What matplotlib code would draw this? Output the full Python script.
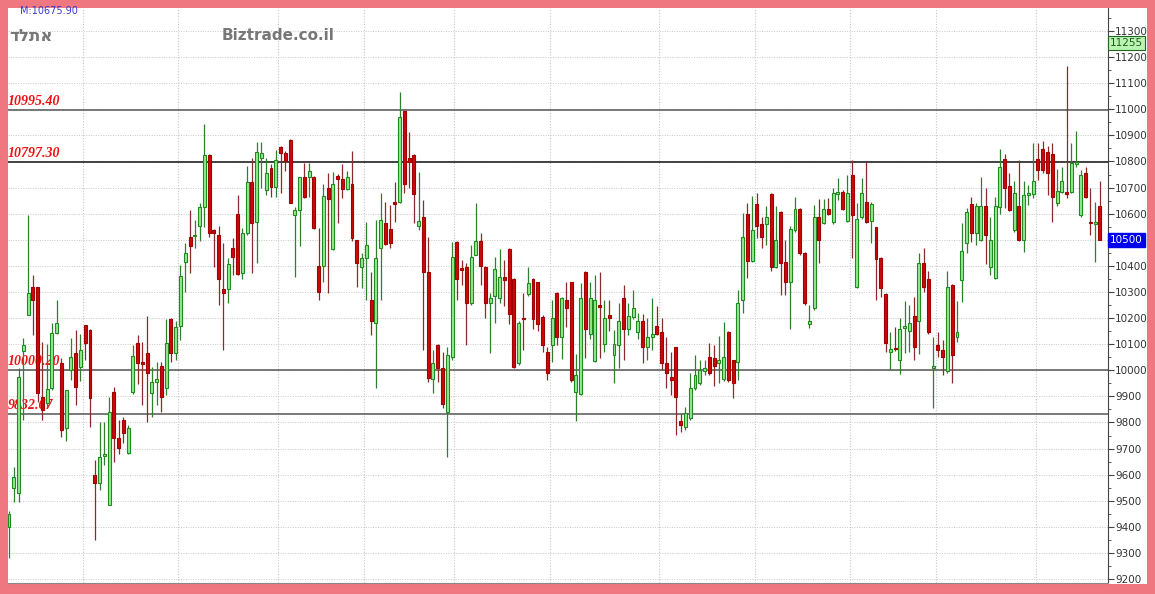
import matplotlib
matplotlib.use("Agg")
import matplotlib.pyplot as plt
import matplotlib.transforms as mtransforms
import numpy as np

# OHLC values, one row per session (oldest first)
opens = [9400, 9550, 9530, 10075, 10212, 10320, 10320, 9898, 9875, 9932,
         10143, 10028, 9779, 10001, 10066, 10013, 10173, 10154, 9600, 9570,
         9670, 9484, 9917, 9740, 9810, 9683, 9917, 10104, 10030, 10066,
         9913, 9955, 10017, 9932, 10196, 10066, 10169, 10415, 10510, 10515,
         10553, 10626, 10825, 10537, 10518, 10311, 10311, 10468, 10599, 10373,
         10526, 10722, 10568, 10813, 10691, 10775, 10702, 10856, 10833, 10883,
         10595, 10614, 10741, 10741, 10741, 10400, 10400, 10698, 10465, 10745,
         10733, 10695, 10714, 10499, 10396, 10430, 10269, 10181, 10468, 10564,
         10541, 10645, 10645, 10994, 10813, 10825, 10553, 10587, 10377, 9967,
         10097, 10009, 9840, 10051, 10491, 10392, 10396, 10258, 10442, 10495,
         10396, 10258, 10285, 10277, 10357, 10465, 10350, 10028, 10200, 10292,
         10350, 10338, 10204, 10070, 10097, 10296, 10127, 10269, 10338, 9917,
         9909, 10377, 10139, 10035, 10250, 10101, 10212, 10059, 10097, 10277,
         10158, 10204, 10147, 10189, 10089, 10127, 10170, 10147, 10028, 9974,
         10089, 9806, 9783, 9817, 9932, 9951, 9997, 10051, 10047, 10028,
         9967, 10147, 10040, 10032, 10269, 10599, 10419, 10637, 10560, 10560,
         10676, 10396, 10607, 10415, 10338, 10537, 10618, 10449, 10177, 10238,
         10587, 10564, 10618, 10568, 10676, 10683, 10572, 10749, 10319, 10587,
         10645, 10572, 10549, 10430, 10292, 10070, 10085, 10040, 10162, 10150,
         10208, 10189, 10411, 10350, 10009, 10097, 10078, 9997, 10327, 10127,
         10346, 10487, 10637, 10526, 10499, 10630, 10396, 10353, 10626, 10810,
         10706, 10537, 10630, 10499, 10672, 10676, 10810, 10848, 10837, 10829,
         10641, 10683, 10683, 10683, 10790, 10595, 10756, 10570, 10560, 10630]
highs = [9460, 9630, 10010, 10125, 10595, 10365, 10320, 10108, 10100, 10180,
         10270, 10047, 9925, 10124, 10154, 10140, 10175, 10160, 9656, 9800,
         9802, 9898, 9936, 9810, 9820, 9790, 10097, 10135, 10108, 10208,
         10013, 10032, 10032, 10196, 10200, 10190, 10403, 10487, 10614, 10576,
         10641, 10944, 10830, 10540, 10553, 10487, 10430, 10507, 10672, 10545,
         10783, 10813, 10875, 10875, 10813, 10790, 10844, 10860, 10840, 10885,
         10626, 10741, 10795, 10795, 10745, 10545, 10714, 10756, 10760, 10752,
         10790, 10764, 10840, 10500, 10450, 10568, 10376, 10576, 10680, 10645,
         10633, 10722, 11066, 10995, 10913, 10830, 10760, 10652, 10510, 10078,
         10100, 10070, 10089, 10491, 10495, 10423, 10410, 10480, 10641, 10526,
         10400, 10296, 10434, 10465, 10423, 10470, 10355, 10190, 10296, 10396,
         10355, 10340, 10210, 10089, 10269, 10300, 10280, 10338, 10340, 10062,
         10334, 10380, 10338, 10365, 10377, 10269, 10269, 10154, 10258, 10327,
         10258, 10307, 10220, 10215, 10200, 10277, 10246, 10200, 10127, 10070,
         10089, 9833, 9860, 9990, 10059, 10040, 10040, 10104, 10097, 10131,
         10185, 10150, 10040, 10307, 10603, 10641, 10668, 10680, 10587, 10630,
         10680, 10630, 10610, 10499, 10553, 10664, 10620, 10455, 10250, 10633,
         10656, 10656, 10660, 10700, 10737, 10690, 10749, 10806, 10640, 10737,
         10798, 10645, 10550, 10435, 10296, 10147, 10166, 10200, 10265, 10250,
         10281, 10449, 10468, 10380, 10127, 10147, 10116, 10380, 10330, 10265,
         10564, 10620, 10665, 10640, 10741, 10698, 10587, 10664, 10848, 10830,
         10756, 10725, 10806, 10725, 10710, 10871, 10871, 10880, 10860, 10871,
         10770, 10780, 11166, 10871, 10917, 10768, 10779, 10698, 10645, 10725]
lows = [9280, 9495, 9495, 9810, 10212, 10135, 9880, 9810, 9860, 9925,
        10140, 9744, 9730, 9962, 9867, 9960, 10040, 9783, 9350, 9540,
        9637, 9484, 9648, 9680, 9720, 9680, 9910, 9947, 9867, 9802,
        9821, 9867, 9840, 9905, 10032, 10040, 10116, 10300, 10373, 10468,
        10495, 10549, 10510, 10396, 10250, 10078, 10258, 10365, 10365, 10350,
        10520, 10373, 10411, 10698, 10672, 10664, 10664, 10680, 10764, 10640,
        10357, 10476, 10660, 10664, 10540, 10269, 10338, 10296, 10460, 10564,
        10660, 10690, 10495, 10319, 10315, 10269, 10135, 9932, 10269, 10480,
        10468, 10568, 10640, 10680, 10698, 10564, 10537, 10078, 9955, 9913,
        9955, 9855, 9668, 10040, 10269, 10327, 10097, 10250, 10440, 10327,
        10200, 10066, 10181, 10258, 10246, 10177, 10009, 10020, 10078, 10285,
        10158, 10150, 10070, 9962, 10032, 10097, 10043, 10166, 9955, 9806,
        9905, 10047, 10120, 10030, 10047, 10070, 10150, 9951, 10009, 10040,
        10135, 10196, 10120, 10028, 10040, 10078, 10135, 10001, 9932, 9905,
        9752, 9763, 9770, 9810, 9925, 9945, 9980, 9980, 9940, 9950,
        9960, 9955, 9894, 9963, 10219, 10353, 10415, 10507, 10468, 10480,
        10380, 10390, 10288, 10288, 10158, 10530, 10440, 10250, 10162, 10230,
        10411, 10560, 10595, 10560, 10652, 10615, 10568, 10430, 10315, 10580,
        10565, 10487, 10269, 10280, 10070, 10001, 10075, 9985, 10066, 10070,
        10040, 10062, 10300, 10140, 9855, 10051, 9982, 9990, 9951, 10108,
        10262, 10450, 10490, 10480, 10495, 10407, 10365, 10350, 10599, 10620,
        10610, 10530, 10495, 10453, 10635, 10660, 10730, 10755, 10672, 10568,
        10630, 10680, 10660, 10680, 10779, 10587, 10660, 10518, 10415, 10499]
closes = [9450, 9590, 9975, 10097, 10296, 10270, 9913, 9848, 9928, 10143,
          10181, 9771, 9925, 10051, 9936, 10078, 10104, 9894, 9570, 9668,
          9680, 9840, 9740, 9702, 9760, 9779, 10055, 10028, 10025, 9990,
          9955, 9967, 9898, 10104, 10066, 10166, 10361, 10449, 10476, 10520,
          10626, 10825, 10526, 10526, 10350, 10296, 10407, 10434, 10369, 10526,
          10722, 10564, 10836, 10833, 10756, 10702, 10806, 10833, 10802, 10641,
          10614, 10741, 10664, 10764, 10545, 10300, 10668, 10656, 10714, 10733,
          10695, 10741, 10507, 10411, 10430, 10480, 10189, 10430, 10576, 10484,
          10487, 10637, 10971, 10714, 10798, 10676, 10572, 10377, 9970, 10028,
          10009, 9871, 10059, 10434, 10350, 10385, 10258, 10434, 10495, 10400,
          10258, 10277, 10388, 10357, 10346, 10215, 10013, 10181, 10195, 10334,
          10196, 10177, 10097, 9990, 10200, 10127, 10277, 10238, 9962, 9982,
          10277, 10158, 10277, 10269, 10242, 10200, 10200, 10101, 10189, 10158,
          10208, 10238, 10189, 10089, 10127, 10139, 10139, 10028, 9990, 9963,
          9898, 9790, 9837, 9932, 9982, 10001, 10009, 9990, 10017, 10040,
          10051, 9963, 9951, 10258, 10510, 10419, 10537, 10553, 10510, 10587,
          10396, 10499, 10411, 10338, 10541, 10618, 10449, 10258, 10189, 10587,
          10499, 10618, 10599, 10680, 10683, 10618, 10680, 10595, 10580, 10680,
          10568, 10637, 10426, 10315, 10104, 10082, 10080, 10158, 10170, 10181,
          10089, 10411, 10319, 10147, 10017, 10078, 10051, 10319, 10059, 10147,
          10457, 10607, 10526, 10630, 10630, 10518, 10499, 10630, 10779, 10698,
          10614, 10680, 10499, 10672, 10680, 10725, 10768, 10768, 10756, 10664,
          10687, 10725, 10677, 10794, 10798, 10749, 10664, 10565, 10568, 10500]

# session index where each new month starts (vertical grid)
month_starts = [16, 36, 57, 75, 94, 114, 137, 157, 177, 195, 216]
# support / resistance levels drawn on the chart
levels = [10995.40, 10797.30, 10000.20, 9832.67]
level_labels = ["10995.40", "10797.30", "10000.20", "9832.67"]
last_price = 10500
marker_price = 11255

W, H = 1155, 594
fig = plt.figure(figsize=(W / 100, H / 100), dpi=100, facecolor="#ef777f")

# white inner panel
bg = fig.add_axes([8 / W, (H - 584) / H, (1147 - 8) / W, (584 - 8) / H])
bg.set_facecolor("white")
bg.set_xticks([])
bg.set_yticks([])
for s in bg.spines.values():
    s.set_visible(False)

ax = fig.add_axes([8 / W, (H - 583) / H, 1100 / W, 575 / H])
ax.patch.set_alpha(0)

o = np.array(opens, float)
h = np.array(highs, float)
l = np.array(lows, float)
c = np.array(closes, float)
x = np.arange(len(o))
up = c >= o

# grid
for yv in np.arange(9200, 11400, 100):
    ax.axhline(yv, color="#c8c8c8", lw=0.7, ls=(0, (1, 1.5)), zorder=0)
for m in month_starts:
    ax.axvline(m - 0.5, color="#c8c8c8", lw=0.8, ls=(0, (1, 1.5)), zorder=0)

# level lines and labels
tr = mtransforms.blended_transform_factory(ax.transAxes, ax.transData)
for lv, lab in zip(levels, level_labels):
    col = "#111111" if lv == 10797.30 else "#555555"
    ax.axhline(lv, color=col, lw=1.1, zorder=1)
    ax.text(0.0, lv + 9, lab, color="#ee1111", fontsize=10, fontstyle="italic",
            fontweight="bold", family="Liberation Serif", va="bottom", ha="left",
            transform=tr, zorder=1.5)

# wicks
ax.vlines(x[up], l[up], h[up], color="#2f7f2f", lw=0.9, zorder=2)
ax.vlines(x[~up], l[~up], h[~up], color="#8a2a2a", lw=0.9, zorder=2)

# bodies
body = np.maximum(np.abs(c - o), 4)
bottom = np.minimum(o, c)
ax.bar(x[up], body[up], bottom=bottom[up], width=0.62, color="#93eb8f",
       edgecolor="#1f8a1f", lw=0.8, zorder=3)
ax.bar(x[~up], body[~up], bottom=bottom[~up], width=0.62, color="#cc0a0a",
       edgecolor="#a00000", lw=0.8, zorder=3)

ax.set_xlim(-0.21, 230.7)
ax.set_ylim(9185, 11388)

# axis styling
for side in ["left", "top"]:
    ax.spines[side].set_visible(False)
ax.spines["right"].set_color("#444444")
ax.spines["bottom"].set_color("#888888")
ax.set_xticks([])
ax.yaxis.tick_right()
yt = np.arange(9200, 11400, 100)
ax.set_yticks(yt)
# the last-price box sits on top of its own tick label
ax.set_yticklabels(["" if v == last_price else str(v) for v in yt])
ax.set_yticks(np.arange(9250, 11400, 100), minor=True)
ax.tick_params(axis="y", which="major", length=4, width=0.8, color="#444444",
               labelsize=7.5, labelcolor="#333333", pad=1)
ax.tick_params(axis="y", which="minor", length=2, width=0.6, color="#444444")

ax.text(1.002, last_price, "10500", transform=tr, color="white", fontsize=7.5,
        va="center", ha="left", zorder=10,
        bbox=dict(boxstyle="square,pad=0.18", fc="#0000ee", ec="#0000ee"))
ax.text(1.002, marker_price, "11255", transform=tr, color="#225522", fontsize=7.5,
        va="center", ha="left", zorder=10,
        bbox=dict(boxstyle="square,pad=0.18", fc="#b9f5b0", ec="#226622", lw=0.8))

# header texts
fig.text(20 / W, 1 - 11 / H, "M:10675.90", color="#3a3acc", fontsize=7,
         va="center", ha="left")
fig.text(9 / W, 1 - 36 / H, "דלתא", color="#777777", fontsize=12,
         fontweight="bold", family="DejaVu Sans", va="center", ha="left")
fig.text(222 / W, 1 - 36 / H, "Biztrade.co.il", color="#777777", fontsize=11,
         fontweight="bold", va="center", ha="left")

fig.savefig("out.png", dpi=100, facecolor=fig.get_facecolor())
